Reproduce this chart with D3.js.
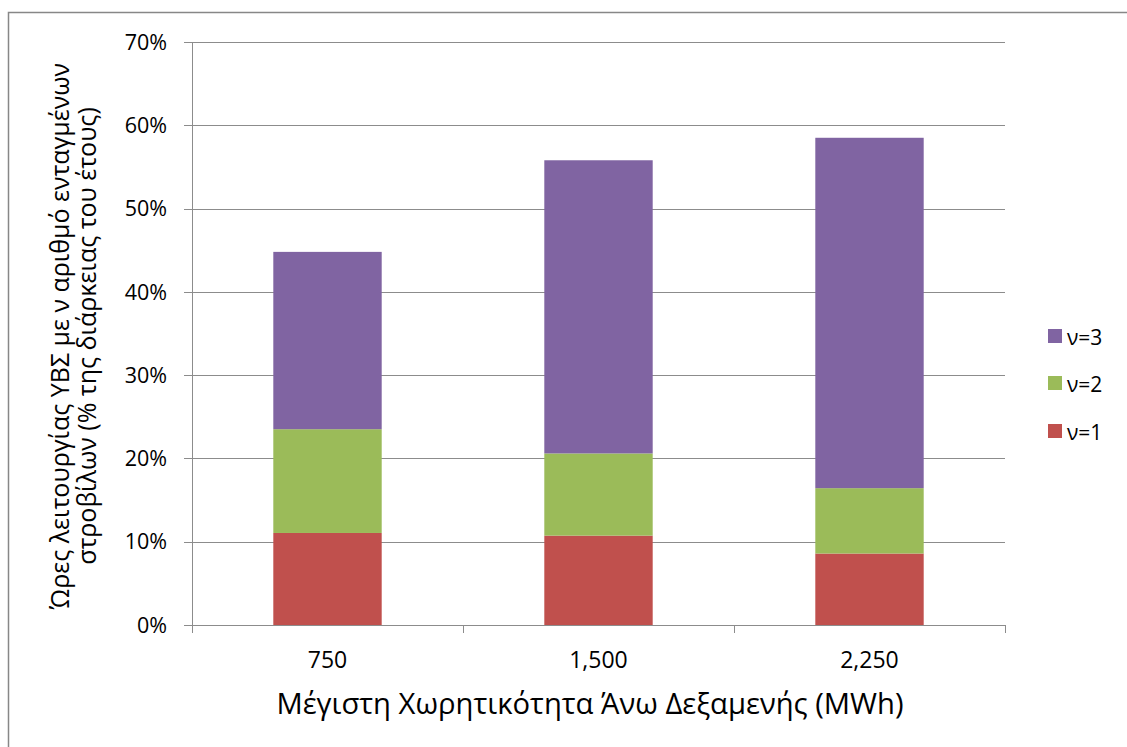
<!DOCTYPE html>
<html><head><meta charset="utf-8">
<script src="https://cdn.jsdelivr.net/npm/d3@7"></script>
<style>body{margin:0;background:#fff}svg{display:block}text{font-family:"Open Sans",sans-serif;fill:#000}</style>
</head><body><svg id="c" width="1127" height="747"></svg>
<script>
const categories = ["750", "1,500", "2,250"];
const seriesNames = ["ν=1", "ν=2", "ν=3"];
const v1 = [11.05, 10.73, 8.58];
const v2 = [12.46, 9.87, 7.85];
const v3 = [21.29, 35.2, 42.07];
const yTicks = [0, 10, 20, 30, 40, 50, 60, 70];
const colors = ["#C0504D", "#9BBB59", "#8064A2"];

const svg = d3.select("#c");
svg.append("rect").attr("x",8.5).attr("y",12.5).attr("width",1130).attr("height",750)
  .attr("fill","#fff").attr("stroke","#878787").attr("stroke-width",1.5);

const L = 192, R = 1005, T = 42, B = 625;
const y = d3.scaleLinear().domain([0,70]).range([B,T]);
const x = d3.scaleBand().domain(categories).range([L,R]).paddingInner(0.6).paddingOuter(0.3);
const xb = d3.scaleBand().domain(categories).range([L,R]).padding(0);

// gridlines
svg.append("g").selectAll("line").data(yTicks).join("line")
  .attr("x1",L-8).attr("x2",R).attr("y1",d=>Math.round(y(d))+0.5).attr("y2",d=>Math.round(y(d))+0.5)
  .attr("stroke","#8c8c8c").attr("stroke-width",1);

// stacked data
const rows = categories.map((c,i)=>({cat:c, "ν=1":v1[i], "ν=2":v2[i], "ν=3":v3[i]}));
const stack = d3.stack().keys(seriesNames)(rows);
svg.append("g").selectAll("g").data(stack).join("g").attr("fill",(d,i)=>colors[i])
  .selectAll("rect").data(d=>d).join("rect")
  .attr("x",d=>x(d.data.cat)).attr("width",x.bandwidth())
  .attr("y",d=>y(d[1])).attr("height",d=>y(d[0])-y(d[1]));

// y axis line
svg.append("line").attr("x1",L+0.5).attr("x2",L+0.5).attr("y1",T).attr("y2",B+8)
  .attr("stroke","#8c8c8c");
// x axis line and ticks
svg.append("line").attr("x1",L).attr("x2",R).attr("y1",B+0.5).attr("y2",B+0.5).attr("stroke","#8c8c8c");
const bounds = categories.map(c=>xb(c)+xb.bandwidth());
svg.append("g").selectAll("line").data(bounds).join("line")
  .attr("x1",d=>Math.round(d)+0.5).attr("x2",d=>Math.round(d)+0.5).attr("y1",B).attr("y2",B+8)
  .attr("stroke","#8c8c8c");

// y tick labels
svg.append("g").selectAll("text").data(yTicks).join("text")
  .attr("x",167).attr("y",d=>y(d)).attr("dy","0.36em").attr("text-anchor","end")
  .style("font-size","21.5px").attr("fill","#1a1a1a").text(d=>d+"%");

// x tick labels
svg.append("g").selectAll("text").data(categories).join("text")
  .attr("x",d=>x(d)+x.bandwidth()/2).attr("y",668).attr("text-anchor","middle")
  .style("font-size","23px").attr("fill","#1a1a1a").text(d=>d);

// x title
svg.append("text").attr("x",590).attr("y",714).attr("text-anchor","middle")
  .style("font-size","29.2px").text("Μέγιστη Χωρητικότητα Άνω Δεξαμενής (MWh)");

// y title
const yt = svg.append("text").attr("transform","translate(0,336) rotate(-90)").attr("text-anchor","middle")
  .style("font-size","25px");
yt.append("tspan").attr("x",0).attr("y",69).text("Ώρες λειτουργίας ΥΒΣ με ν αριθμό ενταγμένων");
yt.append("tspan").attr("x",0).attr("y",96).text("στροβίλων (% της διάρκειας του έτους)");

// legend
const legY = [432, 384, 337];
const lg = svg.append("g").selectAll("g").data(seriesNames).join("g")
  .attr("transform",(d,i)=>`translate(1048,${legY[i]})`);
lg.append("rect").attr("x",0).attr("y",-8).attr("width",14).attr("height",14).attr("fill",(d,i)=>colors[i]);
lg.append("text").attr("x",19).attr("y",0).attr("dy","0.36em").style("font-size","21px").attr("fill","#1a1a1a").text(d=>d);
</script></body></html>
